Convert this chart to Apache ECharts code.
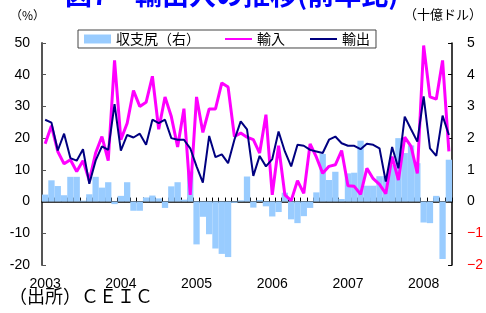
<!DOCTYPE html>
<html>
<head>
<meta charset="utf-8">
<script src="https://cdn.jsdelivr.net/npm/echarts@6/dist/echarts.min.js"></script>
<style>
html, body { margin: 0; padding: 0; background: #fff; }
#chart { width: 486px; height: 313px; }
</style>
</head>
<body>
<div id="chart"></div>
<script>
// 2003/01 - 2008/05, monthly
var months = [];
for (var y = 2003; y <= 2008; y++) {
    for (var m = 1; m <= 12; m++) {
        if (y == 2008 && m > 5) break;
        months.push(y + '-' + (m < 10 ? '0' + m : m));
    }
}

// 輸出 (前年比, %)
var exportsYoY = [25.8, 24.9, 16.1, 21.4, 13.7, 12.9, 16.5, 5.6, 12.9, 17.4, 16.3, 30.7,
    16.1, 21.0, 20.2, 21.4, 17.9, 25.8, 24.7, 25.8, 20.0, 19.5, 19.5, 16.8,
    11.1, 6.0, 20.7, 14.0, 14.9, 12.1, 19.5, 25.3, 22.8, 8.1, 14.4, 11.1,
    13.4, 22.1, 15.8, 11.1, 17.9, 17.6, 16.3, 15.8, 15.3, 19.5, 20.5, 18.4,
    17.6, 17.6, 16.5, 18.2, 17.9, 16.8, 6.3, 17.2, 10.5, 26.8, 22.8, 18.9,
    33.2, 16.8, 14.4, 27.1, 21.0];

// 輸入 (前年比, %)
var importsYoY = [18.2, 23.9, 15.8, 11.9, 13.2, 9.5, 12.9, 6.6, 15.3, 20.5, 12.9, 44.5,
    19.5, 24.7, 35.0, 30.0, 31.3, 39.5, 22.8, 33.0, 26.8, 17.2, 29.3, 2.1,
    33.0, 21.8, 29.2, 29.2, 37.4, 36.1, 20.5, 21.6, 20.3, 19.5, 15.3, 27.4,
    2.1, 17.6, 2.1, 0.3, 6.6, 2.6, 18.2, 14.0, 8.9, 11.1, 11.6, 16.1,
    5.0, 4.8, 2.3, 10.5, 7.2, 5.4, 2.5, 14.2, 6.8, 20.3, 17.4, 8.9,
    49.2, 33.0, 32.3, 44.5, 15.8];

// 収支尻 (十億ドル, 右軸)
var balance = [0.22, 0.67, 0.49, 0.20, 0.78, 0.78, 0.03, 0.23, 0.78, 0.44, 0.61, -0.08,
    0.18, 0.61, -0.29, -0.29, 0.13, 0.19, 0.10, -0.20, 0.48, 0.61, 0.06, 0.95,
    -1.35, -0.48, -1.03, -1.48, -1.65, -1.75, -0.04, 0.04, 0.79, -0.19, 0.05, -0.15,
    -0.47, -0.33, 0.28, -0.56, -0.68, -0.46, -0.20, 0.29, 1.50, 0.68, 0.94, 0.08,
    0.89, 0.91, 1.92, 0.50, 0.50, 0.80, 0.80, 1.15, 2.00, 1.53, 1.77, 1.21,
    -0.66, -0.68, 0.18, -1.81, 1.32];

var leftTicks = { min: -20, max: 50, interval: 10 };
var rightTicks = { min: -2, max: 5, interval: 1 };

var numFont = 'Liberation Sans';
var jpFont = 'Noto Sans CJK JP';

var dom = document.getElementById('chart');
var myChart = echarts.init(dom);
var option = {
    animation: false,
    backgroundColor: '#fff',
    title: {
        text: '図7　輸出入の推移(前年比)',
        left: 60,
        top: -24,
        textStyle: { color: '#0000ff', fontSize: 27, fontWeight: 'bold', fontFamily: jpFont }
    },
    legend: {
        left: 78,
        top: 30,
        padding: [2, 6],
        borderColor: '#444',
        borderWidth: 1,
        itemGap: 24,
        itemWidth: 27,
        itemHeight: 9,
        textStyle: { fontSize: 14, color: '#000', fontFamily: jpFont },
        data: [
            { name: '収支尻（右）', icon: 'rect' },
            { name: '輸入', itemStyle: { opacity: 0 } },  // line only, no dot
            { name: '輸出', itemStyle: { opacity: 0 } }
        ]
    },
    graphic: [
        { type: 'text', left: 10, top: 9, style: { text: '（%）', fontSize: 12, fill: '#000', fontFamily: jpFont } },
        { type: 'text', left: 404, top: 8, style: { text: '（十億ドル）', fontSize: 13, fill: '#000', fontFamily: jpFont } },
        { type: 'text', left: 9, top: 287, style: { text: '（出所）ＣＥＩＣ', fontSize: 18, fill: '#000', fontFamily: jpFont } }
    ],
    grid: { left: 42, right: 26, top: 43, bottom: 48 },
    xAxis: [{
        type: 'category',
        data: months,
        position: 'bottom',
        axisLine: { onZero: true, lineStyle: { color: '#000', width: 1.5 } },
        axisTick: { show: true, inside: true, length: 4, interval: 0, lineStyle: { color: '#000' } },
        axisLabel: { show: false },
        splitLine: { show: false }
    }, {
        // year labels along the bottom edge
        type: 'category',
        data: months,
        position: 'bottom',
        axisLine: { show: false, onZero: false },
        axisTick: { show: false },
        axisLabel: {
            interval: 11,
            margin: 12,
            fontSize: 14,
            color: '#000',
            fontFamily: numFont,
            formatter: function (v) { return v.slice(0, 4); }
        },
        splitLine: { show: false }
    }],
    yAxis: [{
        type: 'value',
        min: leftTicks.min,
        max: leftTicks.max,
        interval: leftTicks.interval,
        axisLine: { show: true, onZero: false, lineStyle: { color: '#555', width: 2 } },
        axisTick: { show: true, inside: true, length: 4, lineStyle: { color: '#555' } },
        axisLabel: { margin: 12, fontSize: 14, color: '#000', fontFamily: numFont },
        splitLine: { show: false }
    }, {
        type: 'value',
        min: rightTicks.min,
        max: rightTicks.max,
        interval: rightTicks.interval,
        position: 'right',
        axisLine: { show: true, onZero: false, lineStyle: { color: '#000', width: 1.5 } },
        axisTick: { show: true, inside: true, length: 4, lineStyle: { color: '#000' } },
        axisLabel: {
            margin: 15,
            fontSize: 14,
            fontFamily: numFont,
            color: function (v) { return v < 0 ? '#ff0000' : '#000'; },
            formatter: function (v) { return v < 0 ? '−' + Math.abs(v) : '' + v; }
        },
        splitLine: { show: false }
    }],
    series: [{
        name: '収支尻（右）',
        type: 'bar',
        yAxisIndex: 1,
        barCategoryGap: '0%',
        itemStyle: { color: '#99ccff' },
        data: balance
    }, {
        name: '輸入',
        type: 'line',
        symbol: 'none',
        lineStyle: { color: '#ff00ff', width: 3 },
        itemStyle: { color: '#ff00ff' },
        data: importsYoY
    }, {
        name: '輸出',
        type: 'line',
        symbol: 'none',
        lineStyle: { color: '#000080', width: 2 },
        itemStyle: { color: '#000080' },
        data: exportsYoY
    }]
};
myChart.setOption(option);
</script>
</body>
</html>
